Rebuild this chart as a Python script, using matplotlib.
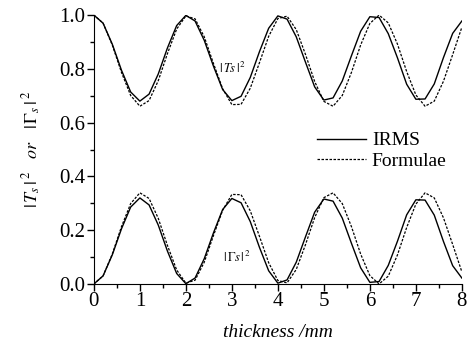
# -*- coding: utf-8 -*-
"""
|Ts|^2 和 |Γs|^2 随厚度变化曲线 (IRMS 与 公式 对比)
"""
import matplotlib.pyplot as plt
import numpy as np
from matplotlib.ticker import MultipleLocator, FormatStrFormatter

# 厚度 /mm, 每 0.2 mm 读一个点
thickness = np.arange(0, 41) * 0.2

t_irms = [1.000, 0.970, 0.892, 0.795, 0.714, 0.680, 0.706, 0.781, 0.878, 0.961,
          0.999, 0.978, 0.906, 0.810, 0.723, 0.682, 0.698, 0.768, 0.864, 0.951,
          0.997, 0.985, 0.919, 0.825, 0.733, 0.684, 0.692, 0.755, 0.849, 0.940,
          0.994, 0.991, 0.931, 0.841, 0.743, 0.687, 0.688, 0.744, 0.842, 0.932,
          0.978]
t_formulae = [1.000, 0.970, 0.889, 0.787, 0.701, 0.661, 0.682, 0.756, 0.857, 0.948,
              0.997, 0.986, 0.919, 0.820, 0.726, 0.667, 0.668, 0.728, 0.823, 0.921,
              0.987, 0.996, 0.946, 0.854, 0.753, 0.679, 0.661, 0.701, 0.787, 0.889,
              0.969, 1.000, 0.971, 0.892, 0.790, 0.703, 0.661, 0.680, 0.754, 0.853,
              0.955]
g_irms = [0.000, 0.030, 0.108, 0.205, 0.286, 0.320, 0.294, 0.219, 0.122, 0.039,
          0.001, 0.022, 0.094, 0.190, 0.277, 0.318, 0.302, 0.232, 0.136, 0.049,
          0.003, 0.015, 0.081, 0.175, 0.267, 0.316, 0.308, 0.245, 0.151, 0.060,
          0.006, 0.009, 0.069, 0.159, 0.257, 0.313, 0.312, 0.256, 0.158, 0.068,
          0.022]
g_formulae = [0.000, 0.030, 0.111, 0.213, 0.299, 0.339, 0.318, 0.244, 0.143, 0.052,
              0.003, 0.014, 0.081, 0.180, 0.274, 0.333, 0.332, 0.272, 0.177, 0.079,
              0.013, 0.004, 0.054, 0.146, 0.247, 0.321, 0.339, 0.299, 0.213, 0.111,
              0.031, 0.000, 0.029, 0.108, 0.210, 0.297, 0.339, 0.320, 0.246, 0.147,
              0.045]

plt.rcParams['font.family'] = ['Liberation Serif', 'DejaVu Serif']
plt.rcParams['mathtext.fontset'] = 'stix'

fig = plt.figure(figsize=(4.67, 3.51), dpi=100)
ax = fig.add_axes([0.201, 0.191, 0.788, 0.766])

ax.plot(thickness, t_irms, color='black', lw=1.0, label='IRMS')
ax.plot(thickness, t_formulae, color='black', lw=0.9, ls=(0, (2, 1.2)), label='Formulae')
ax.plot(thickness, g_irms, color='black', lw=1.0)
ax.plot(thickness, g_formulae, color='black', lw=0.9, ls=(0, (2, 1.2)))

ax.set_xlim(0, 8)
ax.set_ylim(0, 1.0)
ax.xaxis.set_major_locator(MultipleLocator(1))
ax.xaxis.set_minor_locator(MultipleLocator(0.5))
ax.yaxis.set_major_locator(MultipleLocator(0.2))
ax.yaxis.set_minor_locator(MultipleLocator(0.1))
ax.yaxis.set_major_formatter(FormatStrFormatter('%.1f'))
ax.tick_params(which='major', direction='out', length=5, width=1, labelsize=15, pad=1)
ax.tick_params(which='minor', direction='out', length=3, width=1)
ax.spines['top'].set_visible(False)
ax.spines['right'].set_visible(False)

ax.set_xlabel('thickness /mm', fontsize=14, style='italic', labelpad=9)
ax.set_ylabel(r'$|\,T_s\,|^{\,2}$   $or$   $|\,\Gamma_s\,|^{\,2}$', fontsize=13, labelpad=12)

ax.text(3.0, 0.80, r'$|\,Ts\,|^2$', fontsize=9, ha='center', va='center')
ax.text(3.1, 0.10, r'$|\,\Gamma s\,|^{\,2}$', fontsize=9, ha='center', va='center')

ax.legend(loc='center left', bbox_to_anchor=(0.56, 0.495), frameon=False,
          fontsize=14, handlelength=2.5, handletextpad=0.3, labelspacing=0.15)

plt.savefig('out.png', dpi=100)
